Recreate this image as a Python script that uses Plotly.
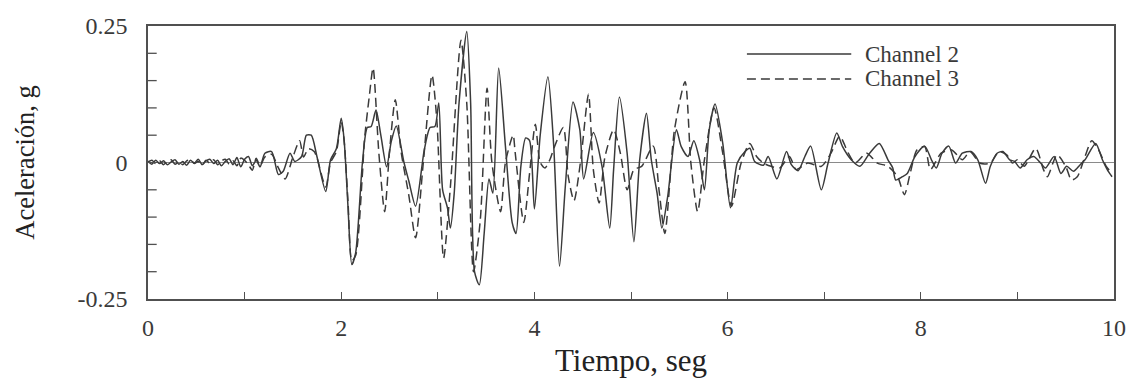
import plotly.graph_objects as go

# ---------------- data ----------------
t_ch2 = [0.00, 0.04, 0.08, 0.12, 0.16, 0.20, 0.24, 0.28, 0.32, 0.36, 0.40, 0.44, 0.48, 0.52, 0.56,
         0.60, 0.64, 0.68, 0.72, 0.76, 0.80, 0.84, 0.88, 0.92, 0.96, 1.00, 1.04, 1.08, 1.12, 1.16,
         1.21, 1.28, 1.35, 1.40, 1.47, 1.52, 1.59, 1.64, 1.69, 1.75, 1.84, 1.89, 1.95, 2.00, 2.03,
         2.07, 2.11, 2.15, 2.22, 2.27, 2.31, 2.36, 2.41, 2.47, 2.52, 2.57, 2.65, 2.70, 2.77, 2.86,
         2.92, 2.97, 3.01, 3.05, 3.10, 3.13, 3.17, 3.22, 3.30, 3.34, 3.38, 3.43, 3.48, 3.53, 3.57,
         3.63, 3.70, 3.77, 3.81, 3.86, 3.91, 3.95, 4.00, 4.06, 4.14, 4.20, 4.26, 4.32, 4.40, 4.47,
         4.51, 4.61, 4.70, 4.78, 4.82, 4.88, 4.96, 5.03, 5.09, 5.16, 5.21, 5.27, 5.32, 5.38, 5.47,
         5.52, 5.59, 5.65, 5.71, 5.76, 5.81, 5.87, 5.95, 6.03, 6.10, 6.18, 6.23, 6.28, 6.37, 6.42,
         6.51, 6.61, 6.66, 6.73, 6.80, 6.86, 6.97, 7.04, 7.13, 7.19, 7.28, 7.37, 7.47, 7.57, 7.66,
         7.71, 7.74, 7.81, 7.86, 7.94, 8.04, 8.11, 8.16, 8.22, 8.29, 8.36, 8.43, 8.52, 8.59, 8.67,
         8.72, 8.79, 8.85, 8.92, 8.97, 9.03, 9.10, 9.17, 9.24, 9.29, 9.38, 9.45, 9.51, 9.58, 9.65,
         9.70, 9.81, 9.88, 9.93, 9.98]
a_ch2 = [0.002, -0.003, 0.004, -0.002, 0.003, -0.004, 0.001, 0.005, -0.003, 0.002, -0.005, 0.004, -0.001, 0.006, -0.004,
         0.003, 0.006, -0.002, 0.004, -0.006, 0.002, 0.007, -0.004, 0.009, -0.008, 0.006, 0.011, -0.006, 0.004, -0.008,
         0.017, 0.020, -0.022, -0.016, 0.017, 0.002, 0.011, 0.050, 0.050, 0.010, -0.053, 0.005, 0.025, 0.081, 0.042,
         -0.080, -0.187, -0.165, 0.000, 0.064, 0.066, 0.096, 0.050, -0.008, 0.040, 0.067, 0.000, -0.034, -0.080, 0.023,
         0.064, 0.066, 0.109, -0.050, -0.083, -0.120, -0.056, 0.109, 0.240, 0.109, -0.200, -0.224, -0.130, -0.030, -0.056,
         0.173, 0.030, -0.110, -0.130, -0.007, 0.045, 0.040, -0.085, 0.050, 0.157, 0.030, -0.190, -0.044, 0.111, 0.060,
         -0.030, 0.055, -0.007, -0.120, -0.013, 0.120, 0.017, -0.145, 0.005, 0.090, 0.005, -0.056, -0.120, -0.062, 0.060,
         0.029, 0.011, 0.040, 0.005, -0.050, 0.060, 0.107, 0.035, -0.083, -0.001, 0.020, 0.026, 0.002, -0.005, 0.011,
         -0.030, 0.020, -0.004, -0.015, 0.011, 0.030, -0.050, -0.001, 0.054, 0.029, 0.005, -0.007, 0.017, 0.035, 0.005,
         -0.010, -0.032, -0.026, -0.020, 0.011, 0.030, 0.005, -0.010, 0.017, 0.030, -0.001, 0.017, 0.020, 0.005, -0.038,
         -0.007, 0.017, 0.020, 0.005, 0.002, -0.010, 0.005, 0.011, -0.001, -0.010, 0.011, -0.020, -0.007, -0.016, -0.004,
         0.005, 0.035, 0.005, -0.013, -0.026]

t_ch3 = [0.00, 0.04, 0.08, 0.12, 0.16, 0.20, 0.24, 0.28, 0.32, 0.36, 0.40, 0.44, 0.48, 0.52, 0.56,
         0.60, 0.64, 0.68, 0.72, 0.76, 0.80, 0.84, 0.88, 0.92, 0.96, 1.00, 1.04, 1.08, 1.12, 1.16,
         1.21, 1.28, 1.35, 1.42, 1.50, 1.57, 1.61, 1.66, 1.72, 1.75, 1.84, 1.89, 1.95, 2.00, 2.03,
         2.07, 2.11, 2.15, 2.22, 2.24, 2.29, 2.33, 2.39, 2.45, 2.50, 2.56, 2.62, 2.70, 2.77, 2.85,
         2.94, 2.99, 3.06, 3.13, 3.24, 3.30, 3.37, 3.44, 3.51, 3.56, 3.65, 3.70, 3.78, 3.80, 3.89,
         3.95, 4.01, 4.06, 4.11, 4.16, 4.21, 4.30, 4.35, 4.41, 4.48, 4.56, 4.61, 4.67, 4.73, 4.82,
         4.89, 4.96, 5.03, 5.11, 5.23, 5.29, 5.35, 5.45, 5.56, 5.62, 5.69, 5.76, 5.86, 5.95, 6.04,
         6.14, 6.23, 6.30, 6.37, 6.45, 6.54, 6.64, 6.71, 6.83, 6.97, 7.07, 7.16, 7.25, 7.32, 7.44,
         7.55, 7.66, 7.76, 7.83, 7.89, 7.96, 8.04, 8.10, 8.21, 8.32, 8.43, 8.51, 8.61, 8.72, 8.81,
         8.89, 8.95, 9.00, 9.07, 9.19, 9.27, 9.31, 9.41, 9.50, 9.56, 9.62, 9.70, 9.77, 9.84, 9.92,
         9.98]
a_ch3 = [0.001, 0.004, -0.002, 0.003, -0.004, 0.002, 0.005, -0.003, 0.001, -0.004, 0.003, 0.005, -0.002, 0.002, -0.005,
         0.004, -0.001, 0.005, -0.004, 0.003, 0.006, -0.003, 0.003, -0.006, 0.008, 0.004, -0.004, -0.014, 0.008, -0.006,
         0.010, 0.015, -0.010, -0.030, 0.010, 0.040, 0.010, 0.025, 0.020, 0.008, -0.045, 0.000, 0.020, 0.075, 0.040,
         -0.070, -0.180, -0.170, -0.020, 0.040, 0.120, 0.173, 0.017, -0.090, 0.020, 0.115, 0.020, -0.060, -0.138, 0.000,
         0.160, 0.078, -0.175, -0.045, 0.224, 0.108, -0.200, -0.105, 0.136, 0.000, -0.090, 0.000, 0.050, 0.020, -0.110,
         -0.020, 0.070, 0.000, -0.010, 0.005, 0.030, 0.064, -0.025, -0.070, 0.005, 0.125, -0.013, -0.074, 0.010, 0.060,
         0.017, -0.050, -0.013, -0.007, 0.030, -0.050, -0.130, 0.060, 0.148, -0.001, -0.090, 0.005, 0.100, 0.017, -0.080,
         -0.001, 0.035, 0.011, -0.001, -0.007, -0.010, 0.011, -0.013, -0.001, -0.007, 0.017, 0.048, 0.017, -0.001, 0.017,
         -0.001, -0.007, -0.026, -0.059, -0.020, 0.023, 0.029, -0.013, 0.017, 0.023, 0.005, 0.020, -0.001, -0.001, 0.020,
         0.014, -0.001, 0.005, -0.007, 0.026, -0.013, -0.026, 0.014, -0.007, -0.032, -0.026, 0.011, 0.040, 0.023, -0.007,
         -0.020]

series_names = ["Channel 2", "Channel 3"]
x_tick_values = [0, 2, 4, 6, 8, 10]
x_tick_labels = ["0", "2", "4", "6", "8", "10"]
x_minor_ticks = [1, 3, 5, 7, 9]
y_tick_values = [-0.25, 0, 0.25]
y_tick_labels = ["-0.25", "0", "0.25"]
y_minor_ticks = [-0.20, -0.15, -0.10, -0.05, 0.05, 0.10, 0.15, 0.20]
x_title = "Tiempo, seg"
y_title = "Aceleración, g"

# ---------------- figure ----------------
FONT = "Liberation Serif, Times New Roman, serif"
INK = "#3a3a3a"
FRAME = "#505050"

fig = go.Figure()
fig.add_trace(go.Scatter(x=t_ch2, y=a_ch2, mode="lines", name=series_names[0],
                         line=dict(color=INK, width=1.5, shape="spline", smoothing=0.7),
                         showlegend=False))
fig.add_trace(go.Scatter(x=t_ch3, y=a_ch3, mode="lines", name=series_names[1],
                         line=dict(color=INK, width=1.5, dash="9px,5px", shape="spline", smoothing=0.7),
                         showlegend=False))

# inward tick marks on the left axis, placed through the y axis scale
for v in y_minor_ticks:
    fig.add_shape(type="line", xref="paper", yref="y", x0=0, x1=0.009, y0=v, y1=v,
                  line=dict(color=FRAME, width=1.3), layer="above")

# legend drawn with long sample lines, as in the original
legend_rows = [(0.897, "solid", series_names[0]), (0.806, "9px,5px", series_names[1])]
for ypos, dash, label in legend_rows:
    fig.add_shape(type="line", xref="paper", yref="paper", x0=0.620, x1=0.728, y0=ypos, y1=ypos,
                  line=dict(color=INK, width=1.5, dash=dash))
    fig.add_annotation(xref="paper", yref="paper", x=0.741, y=ypos, xanchor="left", yanchor="middle",
                       text=label, showarrow=False, font=dict(family=FONT, size=23, color=INK),
                       borderpad=0)

fig.update_layout(
    width=1138, height=385,
    margin=dict(l=148, r=21, t=26, b=86),
    paper_bgcolor="white", plot_bgcolor="white",
    font=dict(family=FONT, color=INK, size=22),
)
fig.update_xaxes(
    range=[0, 10], tickmode="array", tickvals=x_tick_values, ticktext=x_tick_labels,
    ticks="inside", ticklen=7, tickcolor=FRAME, tickwidth=1.3,
    minor=dict(tickmode="array", tickvals=x_minor_ticks, ticks="inside", ticklen=7,
               tickcolor=FRAME, tickwidth=1.3, showgrid=False),
    showgrid=False, zeroline=False, showline=True, mirror=True, linecolor=FRAME, linewidth=1.5,
    tickfont=dict(family=FONT, size=24, color=INK), ticklabelstandoff=6,
    title=dict(text=x_title, font=dict(family=FONT, size=31, color="#222"), standoff=10),
)
fig.update_yaxes(
    range=[-0.25, 0.25], tickmode="array", tickvals=y_tick_values, ticktext=y_tick_labels,
    ticks="inside", ticklen=9, tickcolor=FRAME, tickwidth=1.3,
    showgrid=False, zeroline=True, zerolinecolor="#8a8a8a", zerolinewidth=1,
    showline=True, mirror=True, linecolor=FRAME, linewidth=1.5,
    tickfont=dict(family=FONT, size=24, color=INK), ticklabelstandoff=14,
    title=dict(text=y_title, font=dict(family=FONT, size=26.5, color="#222"), standoff=35),
)

fig.write_html("out.html")
